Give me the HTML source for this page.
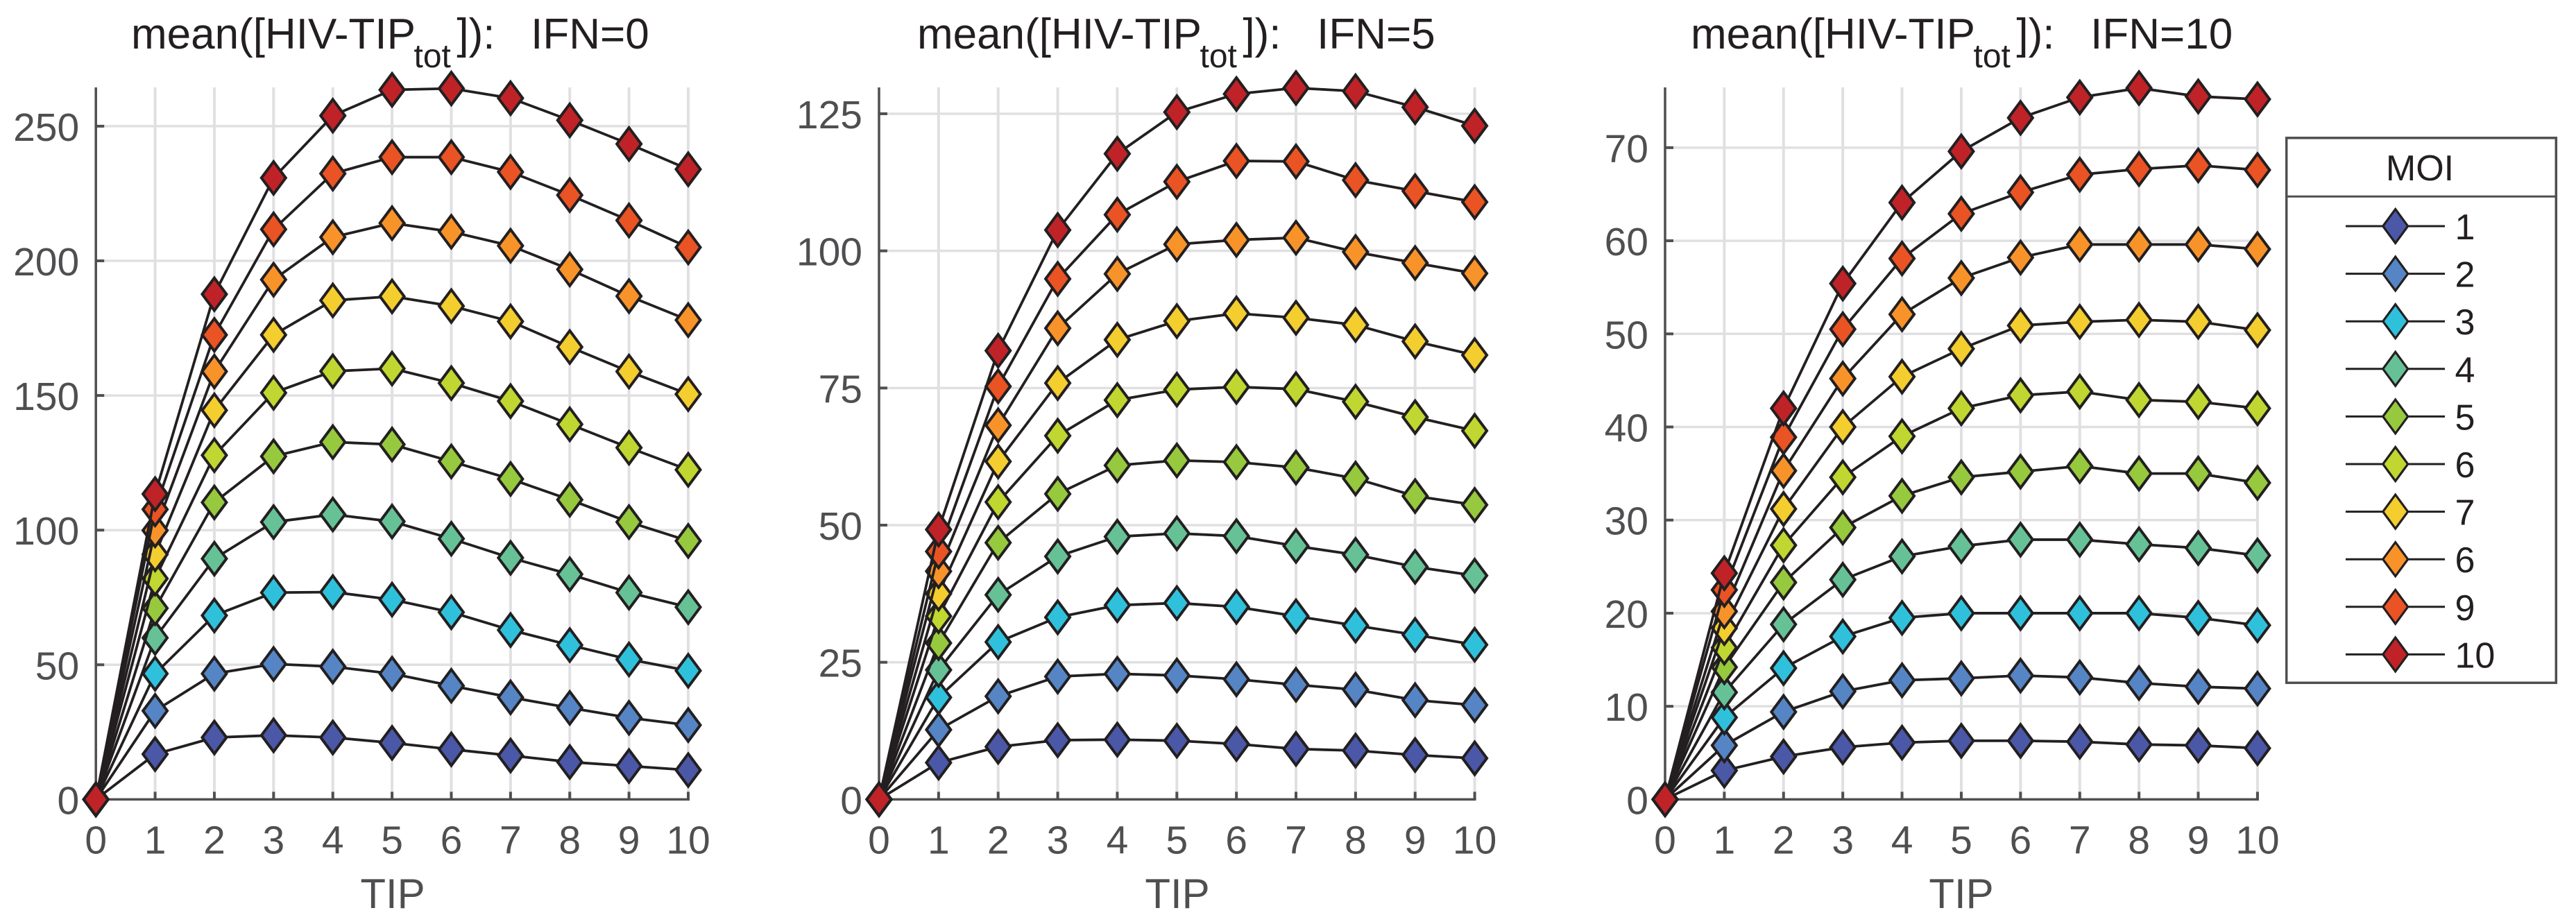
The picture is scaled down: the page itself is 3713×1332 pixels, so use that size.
<!DOCTYPE html>
<html lang="en">
<head>
<meta charset="utf-8">
<title>mean HIV-TIP by TIP, MOI and IFN</title>
<style>
html,body{margin:0;padding:0;background:#fff;}
body{width:3713px;height:1332px;overflow:hidden;}
svg{display:block;}
text{font-family:"Liberation Sans",Arial,sans-serif;}
</style>
</head>
<body>
<svg id="figure" xmlns="http://www.w3.org/2000/svg" width="3713" height="1332" viewBox="0 0 3713 1332">
  <rect x="0" y="0" width="3713" height="1332" fill="#ffffff"/>
  <text x="189" y="70" font-size="62" fill="#231f20" xml:space="preserve">mean([HIV-TIP<tspan font-size="48" dy="27" dx="-2.5">tot</tspan><tspan dy="-27" dx="8.5">]):   IFN=0</tspan></text>
  <text x="1322" y="70" font-size="62" fill="#231f20" xml:space="preserve">mean([HIV-TIP<tspan font-size="48" dy="27" dx="-2.5">tot</tspan><tspan dy="-27" dx="8.5">]):   IFN=5</tspan></text>
  <text x="2437" y="70" font-size="62" fill="#231f20" xml:space="preserve">mean([HIV-TIP<tspan font-size="48" dy="27" dx="-2.5">tot</tspan><tspan dy="-27" dx="8.5">]):   IFN=10</tspan></text>
  <text x="566" y="1309" font-size="60" fill="#4f4f51" text-anchor="middle">TIP</text>
  <text x="1697" y="1309" font-size="60" fill="#4f4f51" text-anchor="middle">TIP</text>
  <text x="2827" y="1309" font-size="60" fill="#4f4f51" text-anchor="middle">TIP</text>
  <g id="panels"></g>
  <g id="legend"></g>
</svg>
<script>
// ---- data ----
const tipValues = [0,1,2,3,4,5,6,7,8,9,10];
const moiLabels = ['1','2','3','4','5','6','7','6','9','10'];

const ifn0Ticks = [0,50,100,150,200,250];
const ifn5Ticks = [0,25,50,75,100,125];
const ifn10Ticks = [0,10,20,30,40,50,60,70];
const yLimits = [264.4,129.8,76.47];

const ifn0Moi1 = [0,16.8,23,23.8,23,21,18.6,16.3,13.9,12.4,10.9];
const ifn0Moi2 = [0,32.9,46.7,50.3,49.3,46.7,42.2,37.9,34,30.3,27.6];
const ifn0Moi3 = [0,46.7,68.3,76.8,77,74.2,69.5,62.9,57.3,52,47.8];
const ifn0Moi4 = [0,60,89.4,103,105.8,103.2,96.8,89.7,83.6,76.8,71.4];
const ifn0Moi5 = [0,71,110.3,127.4,132.7,131.8,125.5,119,111.3,103,96];
const ifn0Moi6 = [0,82,127.8,151,159,160,154.6,147.9,139.3,130.6,122.4];
const ifn0Moi7 = [0,91,144.5,172.5,185.3,186.8,183.2,177.5,168,158.9,150.5];
const ifn0Moi8 = [0,99.9,158.9,193,208.8,214,210.8,205.6,196.8,186.9,178];
const ifn0Moi9 = [0,107.7,172.5,211.7,232.4,238.5,238.5,233,224.4,215,205];
const ifn0Moi10 = [0,113.4,187.6,230.8,253.9,263.5,264,260.4,252.2,243.4,234];

const ifn5Moi1 = [0,6.7,9.6,10.8,10.9,10.7,10.1,9.2,8.9,8.1,7.5];
const ifn5Moi2 = [0,12.7,18.8,22.4,22.9,22.6,21.9,20.9,20,18.1,17.2];
const ifn5Moi3 = [0,18.6,28.7,33.2,35.4,35.8,35.1,33.4,31.7,30,28.2];
const ifn5Moi4 = [0,23.6,37.3,44.3,47.9,48.5,48,46.2,44.6,42.4,40.8];
const ifn5Moi5 = [0,28.5,46.8,55.7,60.9,61.8,61.5,60.5,58.5,55.3,53.7];
const ifn5Moi6 = [0,33.4,54.2,66.3,72.8,74.7,75.2,74.8,72.5,69.7,67.2];
const ifn5Moi7 = [0,37.5,61.6,75.9,83.8,87.2,88.6,87.8,86.5,83.5,81];
const ifn5Moi8 = [0,41.6,68.2,85.9,95.8,101.2,102,102.4,99.8,97.8,95.9];
const ifn5Moi9 = [0,45.2,75.3,94.9,106.6,112.6,116.4,116.3,112.9,110.9,108.9];
const ifn5Moi10 = [0,49.2,81.8,103.8,117.7,125.3,128.6,129.7,129.1,126.2,122.8];

const ifn10Moi1 = [0,3.1,4.6,5.6,6.1,6.3,6.3,6.2,5.9,5.8,5.5];
const ifn10Moi2 = [0,5.8,9.4,11.6,12.8,13,13.3,13.1,12.5,12.1,11.9];
const ifn10Moi3 = [0,8.8,14.1,17.5,19.5,20,20,20,20,19.5,18.7];
const ifn10Moi4 = [0,11.5,18.8,23.6,26.1,27.2,27.9,27.9,27.4,27,26.2];
const ifn10Moi5 = [0,14.2,23.3,29.2,32.6,34.6,35.2,35.8,35,35,34];
const ifn10Moi6 = [0,16.3,27.3,34.6,39,42,43.4,43.8,42.9,42.7,42];
const ifn10Moi7 = [0,18.4,31.2,40,45.4,48.4,50.9,51.3,51.5,51.3,50.4];
const ifn10Moi8 = [0,20.2,35.3,45.2,52.1,56,58.2,59.6,59.6,59.6,59.1];
const ifn10Moi9 = [0,22.5,38.9,50.5,58.1,62.9,65.2,67.1,67.7,68.1,67.6];
const ifn10Moi10 = [0,24.3,42,55.4,64.1,69.6,73.2,75.4,76.4,75.5,75.2];

const ifn0Series = [ifn0Moi1,ifn0Moi2,ifn0Moi3,ifn0Moi4,ifn0Moi5,ifn0Moi6,ifn0Moi7,ifn0Moi8,ifn0Moi9,ifn0Moi10];
const ifn5Series = [ifn5Moi1,ifn5Moi2,ifn5Moi3,ifn5Moi4,ifn5Moi5,ifn5Moi6,ifn5Moi7,ifn5Moi8,ifn5Moi9,ifn5Moi10];
const ifn10Series = [ifn10Moi1,ifn10Moi2,ifn10Moi3,ifn10Moi4,ifn10Moi5,ifn10Moi6,ifn10Moi7,ifn10Moi8,ifn10Moi9,ifn10Moi10];

// ---- style & layout ----
const seriesColors = ['#4a58a7','#5585c5','#2fc1dc','#66c296','#96c93d','#bfd730','#f4cd2f','#f8932a','#ea5323','#bf2327'];
const INK = '#231f20', AXIS = '#4f4f51', GRID = '#e0e0e2';
const plotTop = 126, plotBottom = 1152.4;
const NS = 'http://www.w3.org/2000/svg';

function mk(tag, attrs, parent){
  const el = document.createElementNS(NS, tag);
  for (const k in attrs) el.setAttribute(k, attrs[k]);
  parent.appendChild(el);
  return el;
}
function diamondPoints(cx, cy, w, h){
  return [cx,cy-h, cx+w,cy, cx,cy+h, cx-w,cy].join(',');
}

function drawPanel(root, id, left, right, yMax, ticks, series){
  const xScale = v => left + (right-left)*(v-tipValues[0])/(tipValues[tipValues.length-1]-tipValues[0]);
  const yScale = v => plotBottom - (plotBottom-plotTop)*v/yMax;

  const panel = mk('g', {}, root);
  
  

  // grid
  tipValues.forEach(v => {
    if (v === 0) return;
    const g = mk('line', {x1:xScale(v),x2:xScale(v),y1:plotTop,y2:plotBottom,stroke:GRID,'stroke-width':4}, panel);
    
    
  });
  ticks.forEach(v => {
    if (v === 0) return;
    const g = mk('line', {x1:left,x2:right,y1:yScale(v),y2:yScale(v),stroke:GRID,'stroke-width':3.5}, panel);
    
    
  });

  // axes
  const xAxis = mk('line', {x1:left-1.7,x2:right+2,y1:plotBottom,y2:plotBottom,stroke:AXIS,'stroke-width':3.5}, panel);
  
  
  const yAxis = mk('line', {x1:left,x2:left,y1:plotTop,y2:plotBottom,stroke:AXIS,'stroke-width':3.5}, panel);
  
  

  tipValues.forEach(v => {
    const t = mk('line', {x1:xScale(v),x2:xScale(v),y1:plotBottom-11,y2:plotBottom,stroke:AXIS,'stroke-width':4}, panel);
    
    
    const lab = mk('text', {x:xScale(v),y:1230.5,'font-size':57,fill:AXIS,'text-anchor':'middle'}, panel);
    
    
    lab.textContent = String(v);
  });
  ticks.forEach(v => {
    const t = mk('line', {x1:left,x2:left+12,y1:yScale(v),y2:yScale(v),stroke:AXIS,'stroke-width':4}, panel);
    
    
    const lab = mk('text', {x:left-24,y:yScale(v)+21,'font-size':57,fill:AXIS,'text-anchor':'end'}, panel);
    
    
    lab.textContent = String(v);
  });

  // series
  series.forEach((vals, i) => {
    const g = mk('g', {}, panel);
    
    
    const line = mk('polyline', {
      points: vals.map((v,k) => xScale(tipValues[k]) + ',' + yScale(v)).join(' '),
      fill:'none', stroke:INK, 'stroke-width':3.8, 'stroke-linejoin':'round'
    }, g);
    
    
    vals.forEach((v,k) => {
      const m = mk('polygon', {
        points: diamondPoints(xScale(tipValues[k]), yScale(v), 17.5, 23.5),
        fill: seriesColors[i], stroke: INK, 'stroke-width':4, 'stroke-linejoin':'miter'
      }, g);
      
      
    });
  });
}

const panelsRoot = document.getElementById('panels');
drawPanel(panelsRoot, '0', 138.2, 992, yLimits[0], ifn0Ticks, ifn0Series);
drawPanel(panelsRoot, '5', 1267, 2125.6, yLimits[1], ifn5Ticks, ifn5Series);
drawPanel(panelsRoot, '10', 2400, 3253.9, yLimits[2], ifn10Ticks, ifn10Series);

// ---- legend ----
const legendRoot = document.getElementById('legend');
const box = mk('rect', {x:3295.7,y:198.8,width:388.6,height:785.5,fill:'#ffffff',stroke:AXIS,'stroke-width':3.5}, legendRoot);


const divider = mk('line', {x1:3295.7,x2:3684.3,y1:283.3,y2:283.3,stroke:AXIS,'stroke-width':3}, legendRoot);


const legendTitle = mk('text', {x:3488,y:260,'font-size':52,fill:INK,'text-anchor':'middle'}, legendRoot);


legendTitle.textContent = 'MOI';

moiLabels.forEach((label, i) => {
  const y = 326 + i*68.6;
  const entry = mk('g', {}, legendRoot);
  
  
  const sample = mk('line', {x1:3381,x2:3524,y1:y,y2:y,stroke:INK,'stroke-width':3}, entry);
  
  
  const marker = mk('polygon', {points:diamondPoints(3452.7,y,18,24.5),fill:seriesColors[i],stroke:INK,'stroke-width':3.2}, entry);
  
  
  const lab = mk('text', {x:3538.5,y:y+19,'font-size':52,fill:INK}, entry);
  
  
  lab.textContent = label;
});
</script>
</body>
</html>
